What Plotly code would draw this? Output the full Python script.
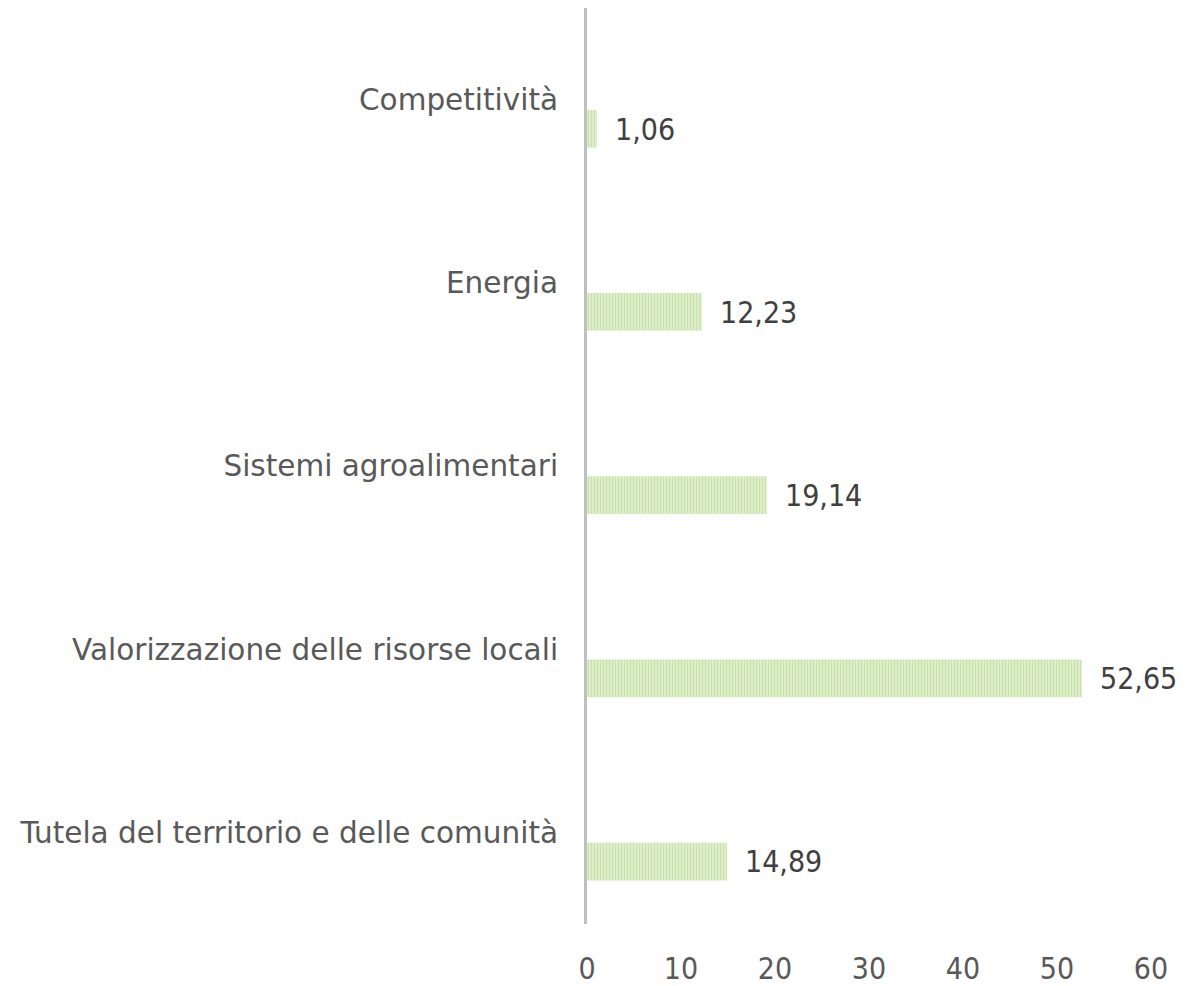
import plotly.graph_objects as go

categories = ["Competitività", "Energia", "Sistemi agroalimentari",
              "Valorizzazione delle risorse locali",
              "Tutela del territorio e delle comunità"]
values = [1.06, 12.23, 19.14, 52.65, 14.89]
x_ticks = [0, 10, 20, 30, 40, 50, 60]

labels = [f"{v:.2f}".replace(".", ",") for v in values]

FONT_NUM = "DejaVu Sans Condensed, DejaVu Sans, sans-serif"
FONT_CAT = "DejaVu Sans, sans-serif"

fig = go.Figure()
fig.add_trace(go.Bar(
    x=values, y=categories, orientation="h",
    width=0.206, offset=0.056,
    marker=dict(color="#e4f1d5", line=dict(width=0),
                pattern=dict(shape="|", fgcolor="#b0d47f", bgcolor="#e4f1d5",
                             size=3, solidity=0.5, fillmode="overlay")),
    hoverinfo="skip",
))

for v, c, t in zip(values, categories, labels):
    fig.add_annotation(x=v, y=c, text=t, showarrow=False, xanchor="left",
                       yanchor="middle", xshift=16, yshift=-29.5,
                       font=dict(family=FONT_NUM, size=30, color="#404040"))

fig.update_layout(
    width=1185, height=978,
    margin=dict(l=579, r=42, t=0, b=56),
    paper_bgcolor="white", plot_bgcolor="white",
    showlegend=False,
    separators=",.",
    font=dict(family=FONT_NUM, size=30, color="#595959"),
)
fig.update_xaxes(range=[0, 60], tickvals=x_ticks, showgrid=False,
                 zeroline=False, showline=False, ticks="",
                 ticklabelstandoff=24,
                 tickfont=dict(family=FONT_NUM, size=30, color="#595959"))
fig.update_yaxes(type="category", categoryorder="array", categoryarray=categories,
                 range=[4.5, -0.5], showgrid=False, zeroline=False,
                 showline=True, linecolor="#bfbfbf", linewidth=3, ticks="",
                 ticklabelstandoff=20,
                 tickfont=dict(family=FONT_CAT, size=29.5, color="#595959"))

fig.write_html("out.html")
